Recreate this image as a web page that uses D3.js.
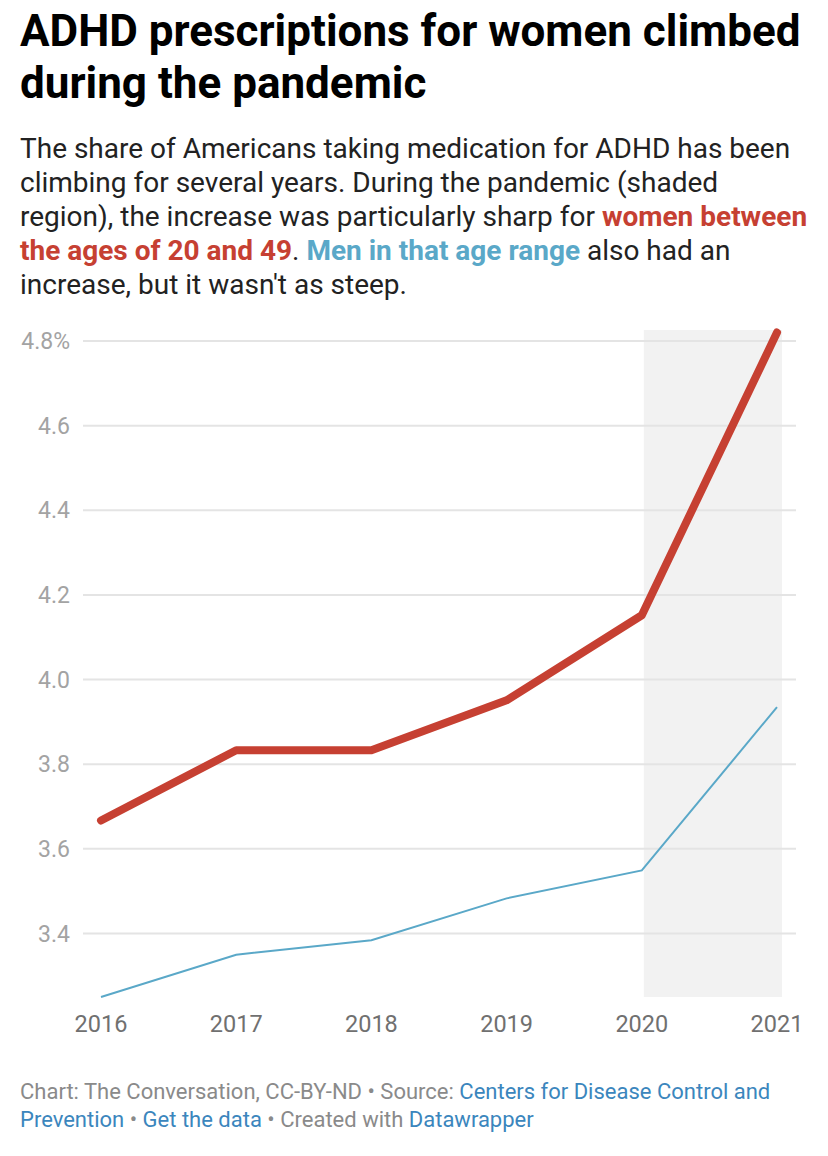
<!DOCTYPE html>
<html>
<head>
<meta charset="utf-8">
<script src="https://cdn.jsdelivr.net/npm/d3@7"></script>
<style>
  body { margin: 0; background: #fff; }
  svg { font-family: Roboto, "Noto Sans", sans-serif; }
</style>
</head>
<body>
<div id="chart"></div>
<script>
// Chart data
var years = [2016, 2017, 2018, 2019, 2020, 2021]
var women = [3.667, 3.833, 3.833, 3.951, 4.152, 4.82]
var men = [3.25, 3.35, 3.384, 3.483, 3.549, 3.935]
var yTicks = [3.4, 3.6, 3.8, 4.0, 4.2, 4.4, 4.6, 4.8]
var pandemic = [2020, 2021]
var yMin = 3.25
var yMax = 4.826

var width = 828
var height = 1156

var svg = d3.select('#chart')
  .append('svg')
  .attr('width', width)
  .attr('height', height)

// Title
var title = svg.append('text')
  .attr('font-size', 44)
  .attr('font-weight', 700)
  .attr('fill', '#000')
title.selectAll('tspan')
  .data(['ADHD prescriptions for women climbed', 'during the pandemic'])
  .join('tspan')
  .attr('x', 20)
  .attr('y', (d, i) => 46 + i * 52)
  .text(d => d)

// Description, with the coloured series names
var descLines = [
  [['The share of Americans taking medication for ADHD has been', '#222', 400]],
  [['climbing for several years. During the pandemic (shaded', '#222', 400]],
  [['region), the increase was particularly sharp for ', '#222', 400], ['women between', '#c64032', 700]],
  [['the ages of 20 and 49', '#c64032', 700], ['. ', '#222', 400], ['Men in that age range', '#5aa8c8', 700], [' also had an', '#222', 400]],
  [['increase, but it wasn\'t as steep.', '#222', 400]]
]
descLines.forEach((parts, i) => {
  var t = svg.append('text')
    .attr('x', 20)
    .attr('y', 158 + i * 34)
    .attr('font-size', 28)
  parts.forEach(p => {
    t.append('tspan')
      .attr('fill', p[1])
      .attr('font-weight', p[2])
      .text(p[0])
  })
})

// Scales
var x = d3.scaleLinear().domain([2016, 2021]).range([101, 777])
var y = d3.scaleLinear().domain([yMin, 4.8]).range([997, 341])

// Shaded pandemic region
svg.append('rect')
  .attr('x', x(pandemic[0]) + 2)
  .attr('y', y(yMax))
  .attr('width', x(pandemic[1]) - x(pandemic[0]) + 3)
  .attr('height', y(yMin) - y(yMax))
  .attr('fill', '#f2f2f2')

// Gridlines
svg.selectAll('.grid')
  .data(yTicks)
  .join('line')
  .attr('class', 'grid')
  .attr('x1', 83)
  .attr('x2', 796)
  .attr('y1', d => y(d))
  .attr('y2', d => y(d))
  .attr('stroke', '#e4e4e4')
  .attr('stroke-width', 2)

// Y axis labels
svg.selectAll('.ylab')
  .data(yTicks)
  .join('text')
  .attr('class', 'ylab')
  .attr('x', 70)
  .attr('y', d => y(d) + 8)
  .attr('text-anchor', 'end')
  .attr('font-size', 23)
  .attr('fill', '#a3a3a3')
  .text(d => d === 4.8 ? '4.8%' : d.toFixed(1))

// X axis labels
svg.selectAll('.xlab')
  .data(years)
  .join('text')
  .attr('class', 'xlab')
  .attr('x', d => x(d))
  .attr('y', 1032)
  .attr('text-anchor', 'middle')
  .attr('font-size', 23.5)
  .attr('fill', '#707070')
  .text(d => d)

// Lines
var line = d3.line()
  .x((d, i) => x(years[i]))
  .y(d => y(d))

svg.append('path')
  .datum(men)
  .attr('d', line)
  .attr('fill', 'none')
  .attr('stroke', '#5aa8c8')
  .attr('stroke-width', 2)

svg.append('path')
  .datum(women)
  .attr('d', line)
  .attr('fill', 'none')
  .attr('stroke', '#c64032')
  .attr('stroke-width', 8)
  .attr('stroke-linecap', 'round')
  .attr('stroke-linejoin', 'round')

// Footer
var footLines = [
  [['Chart: The Conversation, CC-BY-ND • Source: ', '#8a8a8a'], ['Centers for Disease Control and', '#3b86bd']],
  [['Prevention', '#3b86bd'], [' • ', '#8a8a8a'], ['Get the data', '#3b86bd'], [' • Created with ', '#8a8a8a'], ['Datawrapper', '#3b86bd']]
]
footLines.forEach((parts, i) => {
  var t = svg.append('text')
    .attr('x', 20)
    .attr('y', 1099 + i * 28)
    .attr('font-size', 22)
  parts.forEach(p => {
    t.append('tspan').attr('fill', p[1]).text(p[0])
  })
})
</script>
</body>
</html>
